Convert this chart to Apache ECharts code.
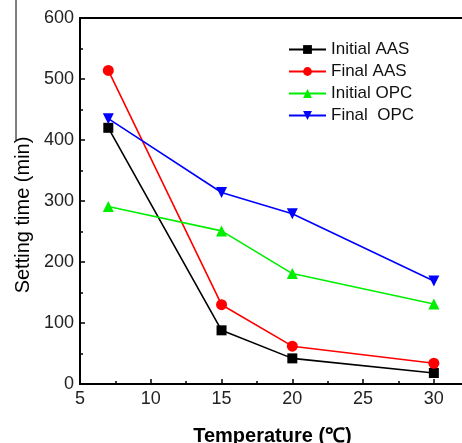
<!DOCTYPE html>
<html>
<head>
<meta charset="utf-8">
<script src="https://cdn.jsdelivr.net/npm/echarts@6/dist/echarts.min.js"></script>
<style>html,body{margin:0;padding:0;background:#fff}#c{width:462px;height:443px}</style>
</head>
<body>
<div id="c"></div>
<script>
const temperatures = [7, 15, 20, 30];
const initialAAS = [420, 88, 42, 18];
const finalAAS = [514, 130, 62, 34];
const initialOPC = [291, 251, 181, 131];
const finalOPC = [435, 314, 279, 169];
const seriesNames = ['Initial AAS', 'Final AAS', 'Initial OPC', 'Final  OPC'];

function pairs(vals) { return temperatures.map((t, i) => [t, vals[i]]); }

const font = 'Arial, "Liberation Sans", sans-serif';
const chart = echarts.init(document.getElementById('c'));
function mk(name, vals, color, symbol, size, rot) {
  return {
    name: name, type: 'line', data: pairs(vals),
    symbol: symbol, symbolSize: size, symbolRotate: rot || 0,
    itemStyle: { color: color },
    lineStyle: { color: color, width: 1.6 },
    animation: false
  };
}
chart.setOption({
  backgroundColor: '#fff',
  animation: false,
  grid: { left: 80, top: 18, right: -3, bottom: 59, show: true, borderColor: '#000', borderWidth: 2,
    backgroundColor: 'transparent', containLabel: false, outerBoundsMode: 'none' },
  legend: {
    orient: 'vertical', left: 283, top: 36,
    itemWidth: 37, itemHeight: 11, itemGap: 5,
    textStyle: { fontFamily: font, fontSize: 17, color: '#111', lineHeight: 17 },
    data: seriesNames
  },
  xAxis: {
    type: 'value', min: 5, max: 32.2, interval: 5,
    name: 'Temperature (\u2103)', nameLocation: 'middle', nameGap: 42,
    nameTextStyle: { fontFamily: font, fontSize: 20, fontWeight: 'bold', color: '#000' },
    axisLine: { show: true, lineStyle: { color: '#000', width: 2 } },
    axisTick: { inside: true, length: 5, lineStyle: { color: '#000', width: 1.5 } },
    minorTick: { show: true, splitNumber: 2, length: 3, lineStyle: { color: '#000', width: 1.5 } },
    axisLabel: { fontFamily: font, fontSize: 18, color: '#222', margin: 6, showMaxLabel: false,
      formatter: v => (v % 5 === 0 ? String(v) : '') },
    splitLine: { show: false }
  },
  yAxis: {
    type: 'value', min: 0, max: 600, interval: 100,
    name: 'Setting time (min)', nameLocation: 'middle', nameGap: 46, nameRotate: 90,
    nameTextStyle: { fontFamily: font, fontSize: 20, color: '#000', padding: [0, 28, 0, 0] },
    axisLine: { show: true, lineStyle: { color: '#000', width: 2 } },
    axisTick: { inside: true, length: 5, lineStyle: { color: '#000', width: 1.5 } },
    minorTick: { show: true, splitNumber: 2, length: 3, lineStyle: { color: '#000', width: 1.5 } },
    axisLabel: { fontFamily: font, fontSize: 18, color: '#222', margin: 6 },
    splitLine: { show: false }
  },
  graphic: [
    { type: 'line', shape: { x1: 16, y1: 0, x2: 16, y2: 140 }, style: { stroke: '#000', lineWidth: 1 } }
  ],
  series: [
    mk(seriesNames[0], initialAAS, '#000000', 'rect', 10),
    mk(seriesNames[1], finalAAS, '#ff0000', 'circle', 11),
    mk(seriesNames[2], initialOPC, '#00ee00', 'triangle', 11),
    mk(seriesNames[3], finalOPC, '#0000ff', 'triangle', 11, 180)
  ]
});
</script>
</body>
</html>
